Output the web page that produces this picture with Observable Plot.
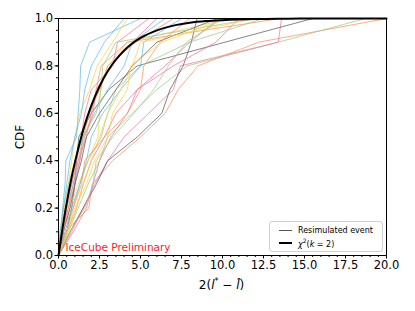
<!DOCTYPE html>
<html><head><meta charset="utf-8">
<script src="https://cdn.jsdelivr.net/npm/d3@7"></script>
<script src="https://cdn.jsdelivr.net/npm/@observablehq/plot@0.6"></script>
<style>
body{margin:0;background:#fff}
#wrap{position:relative;width:415px;height:311px;font-family:"DejaVu Sans",sans-serif;color:#000}
#legend{position:absolute;left:269px;top:221px;width:112px;height:29px;border:1px solid #d0d0d0;border-radius:3px;background:rgba(255,255,255,0.85);font-size:8px}
.row{position:absolute;left:0;height:12px;display:flex;align-items:center}
.sw{display:inline-block;width:13px;margin-left:9px;margin-right:6px}
.xl{position:absolute;left:0;width:415px;top:277px;text-align:center;font-size:12px;padding-left:28px;box-sizing:border-box}
.yl{position:absolute;left:20px;top:137px;font-size:12px;transform:translate(-50%,-50%) rotate(-90deg)}
</style>
</head><body>
<div id="wrap"></div>
<script>
// CDF levels shared by every resimulated event
const cdfLevels = [0, 0.1, 0.2, 0.3, 0.4, 0.5, 0.6, 0.7, 0.8, 0.9, 1.0];
// colour of each resimulated event
const eventColors = [
  "#5cbbe0", "#ff8c5c", "#96cc80", "#f2709a", "#555555", "#555555",
  "#ffd040", "#ffd040", "#ff8c5c", "#96cc80", "#f2709a", "#5cbbe0",
  "#5cbbe0", "#f2709a", "#ff8c5c", "#555555", "#f2709a", "#96cc80",
  "#ffd040", "#ff8c5c", "#96cc80", "#5cbbe0", "#f2709a", "#ffd040"
];
// x value (2(l*-l^)) of each event at the CDF levels above
const eventX = [
  [0, 0.15, 0.25, 0.4, 0.45, 1.1, 1.2, 1.3, 1.35, 1.9, 5.0],
  [0, 0.4, 1.85, 2.05, 3.3, 5.0, 6.5, 7.3, 8.5, 12.2, 20.0],
  [0, 0.6, 1.2, 1.8, 2.5, 3.0, 4.5, 6.0, 7.85, 13.4, 18.7],
  [0, 0.8, 1.5, 2.2, 3.0, 4.0, 5.5, 7.0, 7.44, 13.4, 13.6],
  [0, 0.5, 0.8, 1.0, 1.1, 1.24, 2.0, 3.07, 4.8, 10.15, 15.5],
  [0, 0.7, 1.5, 2.3, 3.0, 4.8, 6.3, 6.8, 7.6, 8.1, 8.45],
  [0, 0.2, 0.35, 0.6, 0.8, 1.0, 1.3, 1.9, 2.36, 3.3, 4.2],
  [0, 0.3, 0.7, 1.2, 1.8, 2.4, 2.5, 2.55, 3.0, 4.2, 10.5],
  [0, 0.3, 0.6, 0.9, 1.2, 1.5, 1.9, 2.5, 3.0, 4.7, 7.0],
  [0, 0.5, 0.9, 1.3, 1.8, 2.6, 3.0, 3.5, 5.0, 8.0, 12.5],
  [0, 0.9, 1.7, 2.1, 2.5, 3.2, 4.2, 4.8, 7.0, 9.6, 11.0],
  [0, 0.4, 0.8, 1.3, 1.7, 2.0, 2.7, 3.8, 5.0, 5.2, 7.5],
  [0, 0.3, 0.5, 0.9, 1.3, 1.5, 2.2, 3.0, 4.0, 4.5, 6.5],
  [0, 0.2, 0.6, 1.0, 1.3, 1.6, 2.1, 2.3, 3.2, 4.5, 6.0],
  [0, 0.2, 0.5, 0.8, 1.2, 1.7, 2.0, 2.3, 2.6, 4.2, 13.5],
  [0, 0.3, 0.7, 1.0, 1.4, 1.7, 2.5, 3.5, 4.5, 6.0, 9.7],
  [0, 0.5, 1.1, 1.5, 2.0, 2.8, 3.5, 4.8, 6.5, 8.0, 9.8],
  [0, 0.1, 0.3, 0.6, 1.0, 1.5, 2.3, 2.6, 2.7, 3.5, 12.0],
  [0, 0.6, 1.1, 1.5, 2.0, 2.5, 3.0, 3.8, 4.5, 5.0, 12.0],
  [0, 0.2, 0.9, 1.4, 1.6, 2.8, 4.2, 5.0, 5.2, 6.2, 8.0],
  [0, 0.7, 1.6, 2.1, 2.3, 3.3, 4.6, 5.8, 6.7, 7.8, 10.0],
  [0, 0.1, 0.3, 0.5, 0.7, 1.0, 1.4, 1.6, 2.0, 2.8, 4.0],
  [0, 0.3, 0.4, 0.8, 1.1, 1.4, 1.6, 2.0, 3.3, 3.6, 5.5],
  [0, 0.5, 1.0, 1.7, 2.2, 3.0, 3.3, 4.2, 4.4, 6.3, 10.2]
];
// chi^2 (k=2) reference curve
const chi2X = [0, 0.25, 0.5, 0.75, 1, 1.5, 2, 2.5, 3, 3.5, 4, 5, 6, 7, 8, 9, 10, 12, 14, 16, 20];
const chi2Y = [0, 0.118, 0.221, 0.313, 0.393, 0.528, 0.632, 0.713, 0.777, 0.826, 0.865, 0.918, 0.950, 0.970, 0.982, 0.989, 0.993, 0.9975, 0.999, 1.0, 1.0];
// ticks
const xTicks = [0, 2.5, 5, 7.5, 10, 12.5, 15, 17.5, 20];
const yTicks = [0, 0.2, 0.4, 0.6, 0.8, 1.0];
const xMinor = d3.range(0, 20.001, 0.5);
const yMinor = d3.range(0, 1.0001, 0.05);

const rows = eventX.flatMap((xs, i) => xs.map((x, j) => ({event: i, x, y: cdfLevels[j], c: eventColors[i]})));
const chi2 = chi2X.map((x, i) => ({x, y: chi2Y[i]}));

const plot = Plot.plot({
  width: 415, height: 311,
  marginLeft: 58, marginRight: 29, marginTop: 18, marginBottom: 56,
  style: {fontFamily: "DejaVu Sans, sans-serif", fontSize: "11.5px", color: "black", background: "white"},
  x: {domain: [0, 20]},
  y: {domain: [0, 1]},
  color: {type: "identity"},
  marks: [
    Plot.line(rows, {x: "x", y: "y", z: "event", stroke: "c", strokeWidth: 0.8, strokeOpacity: 0.9}),
    Plot.line(chi2, {x: "x", y: "y", stroke: "black", strokeWidth: 2, curve: "monotone-x"}),
    Plot.text(["IceCube Preliminary"], {frameAnchor: "bottom-left", dx: 7, dy: -5, fill: "#ff1a1a", textAnchor: "start", fontSize: 10.5}),
    Plot.frame({stroke: "black", strokeWidth: 1}),
    Plot.axisX({ticks: xTicks, tickFormat: d => d.toFixed(1), tickSize: 3.5, tickPadding: 2, label: null, fontSize: 11.5}),
    Plot.axisX({ticks: xMinor, tickFormat: () => "", tickSize: 2, label: null}),
    Plot.axisY({ticks: yTicks, tickFormat: d => d.toFixed(1), tickSize: 3.5, tickPadding: 2, label: null, fontSize: 11.5}),
    Plot.axisY({ticks: yMinor, tickFormat: () => "", tickSize: 2, label: null})
  ]
});
const wrap = document.getElementById("wrap");
wrap.appendChild(plot);

const xl = document.createElement("div");
xl.className = "xl";
xl.innerHTML = '2(<i>l</i><sup style="font-size:8px">*</sup> − <i>l̂</i>)';
wrap.appendChild(xl);
const yl = document.createElement("div");
yl.className = "yl";
yl.textContent = "CDF";
wrap.appendChild(yl);

const lg = document.createElement("div");
lg.id = "legend";
lg.innerHTML =
  '<div class="row" style="top:2px"><span class="sw" style="border-top:0.8px solid #555"></span>Resimulated event</div>' +
  '<div class="row" style="top:15px"><span class="sw" style="border-top:2px solid #000"></span><span><i>χ</i><sup style="font-size:6px">2</sup>(<i>k</i> = 2)</span></div>';
wrap.appendChild(lg);
</script>
</body></html>
